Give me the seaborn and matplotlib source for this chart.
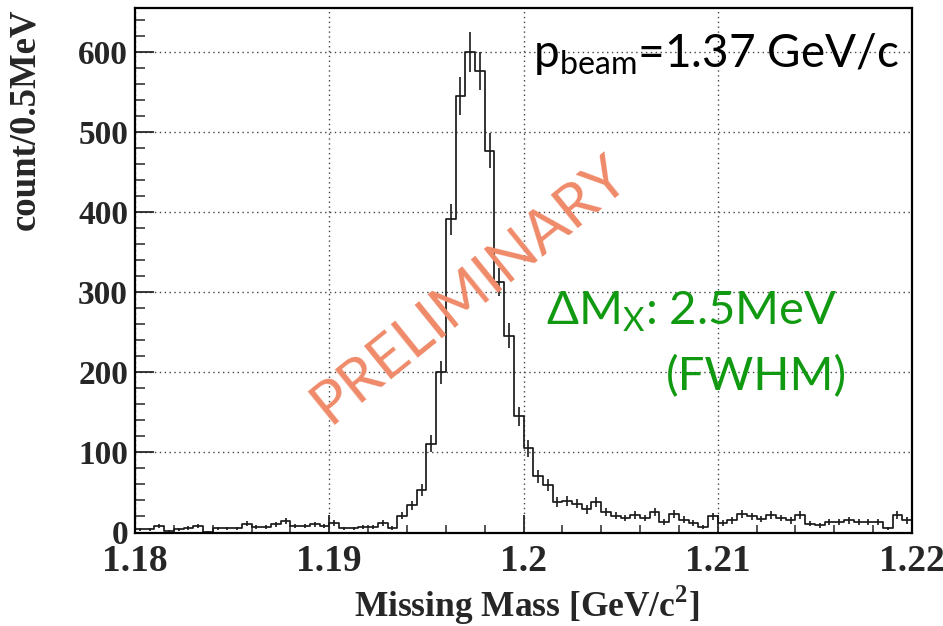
import numpy as np
import pandas as pd
import matplotlib
matplotlib.use("Agg")
import matplotlib.pyplot as plt
from matplotlib.ticker import MultipleLocator, FixedLocator
import seaborn as sns

# ---- data ----
mass_lo, mass_hi = 1.18, 1.22          # GeV/c^2, 0.5 MeV bins
counts = [4, 4, 8, 2, 4, 6, 8, 1, 5, 5,
          5, 11, 7, 7, 10, 14, 8, 8, 10, 8,
          12, 5, 5, 7, 7, 12, 6, 21, 34, 53,
          111, 200, 391, 545, 600, 576, 477, 313, 246, 145,
          105, 70, 59, 38, 39, 36, 29, 38, 26, 21,
          18, 22, 18, 26, 13, 23, 16, 12, 7, 20,
          12, 15, 23, 20, 17, 22, 18, 15, 22, 11,
          9, 13, 13, 15, 13, 13, 13, 5, 22, 15]
x_ticks = [1.18, 1.19, 1.20, 1.21, 1.22]
x_tick_labels = ["1.18", "1.19", "1.2", "1.21", "1.22"]
y_ticks = [0, 100, 200, 300, 400, 500, 600]
y_tick_labels = ["0", "100", "200", "300", "400", "500", "600"]

counts = np.array(counts, dtype=float)
nbins = len(counts)
edges = np.linspace(mass_lo, mass_hi, nbins + 1)
centers = 0.5 * (edges[:-1] + edges[1:])
df = pd.DataFrame({"mass": centers, "count": counts})

sns.set_style("white")
plt.rcParams["font.family"] = ["Liberation Serif", "DejaVu Serif"]
plt.rcParams["mathtext.fontset"] = "custom"

fig = plt.figure(figsize=(9.43, 6.26), dpi=100)
ax = fig.add_axes([135 / 943, 1 - 532.5 / 626, (912 - 135) / 943, (532.5 - 8) / 626])

sns.histplot(data=df, x="mass", weights="count", bins=nbins, binrange=(mass_lo, mass_hi),
             element="step", fill=False, color="#1a1a1a", linewidth=1.25, ax=ax)
ax.errorbar(df["mass"], df["count"], yerr=np.sqrt(df["count"]), fmt="none",
            ecolor="#1a1a1a", elinewidth=1.2, capsize=0)

ax.set_xlim(mass_lo, mass_hi)
ax.set_ylim(0, 655)

ax.xaxis.set_major_locator(FixedLocator(x_ticks))
ax.set_xticklabels(x_tick_labels)
ax.xaxis.set_minor_locator(MultipleLocator(0.002))
ax.yaxis.set_major_locator(FixedLocator(y_ticks))
ax.set_yticklabels(y_tick_labels)
ax.yaxis.set_minor_locator(MultipleLocator(20))

ax.tick_params(axis="x", which="major", direction="in", length=13, width=1.3,
               labelsize=27, pad=8, bottom=True, top=False)
ax.tick_params(axis="x", which="minor", direction="in", length=5.5, width=1.1,
               bottom=True, top=False)
ax.tick_params(axis="y", which="major", direction="in", length=14, width=1.3,
               labelsize=24, pad=5, left=True, right=False)
ax.tick_params(axis="y", which="minor", direction="in", length=7, width=1.1,
               left=True, right=False)
for lab in ax.get_xticklabels() + ax.get_yticklabels():
    lab.set_fontweight("bold")

ax.grid(True, which="major", linestyle=(0, (1, 2.5)), color="#444444", linewidth=1.0)
ax.set_axisbelow(True)
for sp in ax.spines.values():
    sp.set_visible(True)
    sp.set_color("black")
    sp.set_linewidth(1.6)

ax.set_xlabel(r"Missing Mass [GeV/c$^\mathregular{2}$]", fontsize=25.5, fontweight="bold",
              va="center")
ax.xaxis.set_label_coords((527 - 135) / 777, (532.5 - 605) / 524.5)
ax.set_ylabel("count/0.5MeV", fontsize=26.5, fontweight="bold", loc="top")
ax.yaxis.set_label_coords((42 - 135) / 777, 1.0)

sans = ["Lato", "DejaVu Sans"]
fig.text(533 / 943, 1 - 67 / 626, r"p$_\mathregular{beam}$=1.37 GeV/c", family=sans,
         fontsize=33, color="black", ha="left", va="baseline")
fig.text(546 / 943, 1 - 325 / 626, r"ΔM$_\mathregular{X}$: 2.5MeV", family=sans,
         fontsize=34, color="#119a11", ha="left", va="baseline")
fig.text(666 / 943, 1 - 390 / 626, "(FWHM)", family=sans,
         fontsize=34, color="#119a11", ha="left", va="baseline")
fig.text(470 / 943, 1 - 290 / 626, "PRELIMINARY", family=sans, fontsize=43,
         color="#ef8a69", rotation=39, rotation_mode="anchor", ha="center", va="center")

fig.savefig("out.png", dpi=100)
